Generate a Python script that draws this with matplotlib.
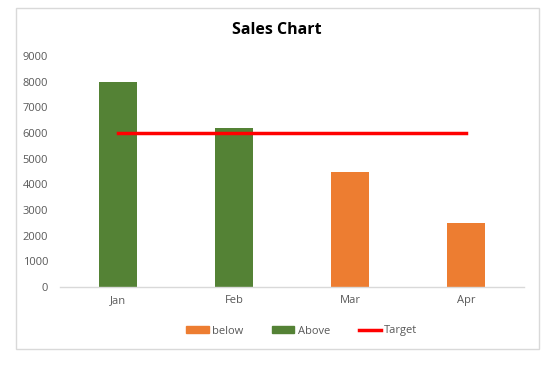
import matplotlib
matplotlib.use("Agg")
import matplotlib.pyplot as plt
from matplotlib.patches import Rectangle
from matplotlib.lines import Line2D
import numpy as np

months = ["Jan", "Feb", "Mar", "Apr"]
below = [0, 0, 4500, 2500]
above = [8000, 6200, 0, 0]
target = [6000, 6000, 6000, 6000]
yticks = [0, 1000, 2000, 3000, 4000, 5000, 6000, 7000, 8000, 9000]

plt.rcParams['font.family'] = ['Open Sans', 'DejaVu Sans']

W, H = 551, 366
fig = plt.figure(figsize=(W/100, H/100), dpi=100)
fig.patch.set_facecolor("white")

# chart frame
fig.add_artist(Rectangle((16/W, 1-349/H), (539-16)/W, (349-8)/H, transform=fig.transFigure,
                         fill=False, edgecolor="#D9D9D9", linewidth=1))

ax = fig.add_axes([60/W, 79/H, (524-60)/W, (287-56)/H])
x = np.arange(len(months))
bw = 0.32
orange = "#ED7D31"
green = "#548235"
red = "#FF0000"
ax.bar(x, below, width=bw, color=orange, label="below", zorder=2)
ax.bar(x, above, width=bw, color=green, label="Above", zorder=2)
ax.plot(x, target, color=red, linewidth=2.5, label="Target", zorder=3)

ax.set_xlim(-0.5, 3.5)
ax.set_ylim(0, 9000)
ax.set_yticks(yticks)
ax.set_yticklabels([str(v) for v in yticks])
ax.set_xticks(x)
ax.set_xticklabels(months)
for s in ["top", "right", "left"]:
    ax.spines[s].set_visible(False)
ax.spines["bottom"].set_color("#D9D9D9")
ax.spines["bottom"].set_linewidth(1)
ax.tick_params(axis="y", length=0, pad=8.5, labelsize=8, labelcolor="#595959")
ax.tick_params(axis="x", length=0, pad=6, labelsize=8, labelcolor="#595959")

fig.text(277/W, 1-30/H, "Sales Chart", ha="center", va="center", fontsize=11.5,
         fontweight="bold", color="black")

handles = [Rectangle((0, 0), 1, 1, color=orange), Rectangle((0, 0), 1, 1, color=green),
           Line2D([0], [0], color=red, linewidth=2.5)]
leg = fig.legend(handles, ["below", "Above", "Target"], loc="center", ncol=3,
                 bbox_to_anchor=(302/W, 1-331/H), frameon=False, fontsize=8,
                 handlelength=2.0, handleheight=0.5, handletextpad=0.3, columnspacing=2.6)
for t in leg.get_texts():
    t.set_color("#595959")

fig.savefig("out.png", dpi=100)
